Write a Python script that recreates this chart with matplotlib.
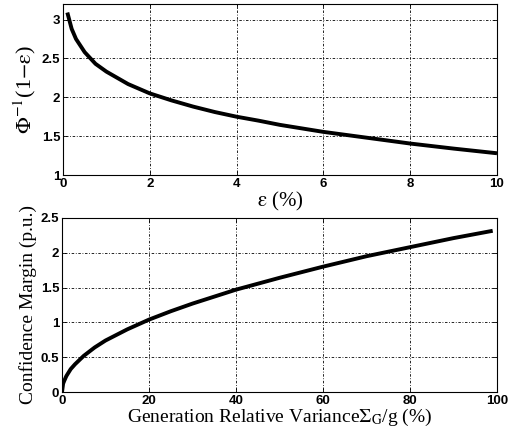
import numpy as np
import matplotlib
matplotlib.use("Agg")
import matplotlib.pyplot as plt

# top panel: inverse normal quantile vs risk level
eps_pct = [0.1, 0.2, 0.3, 0.5, 0.75, 1, 1.5, 2, 2.5, 3, 3.5, 4, 4.5, 5, 6, 7, 8, 9, 10]
phi_inv = [3.09, 2.88, 2.75, 2.58, 2.43, 2.33, 2.17, 2.05, 1.96, 1.88, 1.81,
           1.75, 1.70, 1.645, 1.555, 1.48, 1.405, 1.34, 1.28]

# bottom panel: confidence margin vs relative variance
var_pct = [0, 0.25, 0.5, 1, 2, 3, 5, 7.5, 10, 15, 20, 25, 30, 40, 50, 60, 70, 80, 90, 99]
margin = [0, 0.12, 0.16, 0.23, 0.33, 0.40, 0.52, 0.64, 0.74, 0.90, 1.04, 1.16,
          1.27, 1.47, 1.64, 1.80, 1.95, 2.08, 2.21, 2.315]

plt.rcParams['mathtext.fontset'] = 'stix'
serif = 'Liberation Serif'
tick_font = dict(family='Liberation Sans', weight='bold', size=9.5)

fig = plt.figure(figsize=(5.1, 4.42), dpi=100)
ax1 = fig.add_axes([0.1235, 0.604, 0.851, 0.387])
ax2 = fig.add_axes([0.1216, 0.113, 0.853, 0.394])


def style(ax):
    ax.grid(True, color='black', linestyle=(0, (1, 2, 3, 2)), linewidth=0.6)
    ax.tick_params(direction='in', length=3, width=0.6, top=True, right=True, pad=2)
    for s in ax.spines.values():
        s.set_linewidth(0.8)
    for lab in ax.get_xticklabels() + ax.get_yticklabels():
        lab.set_fontfamily(tick_font['family'])
        lab.set_fontweight(tick_font['weight'])
        lab.set_fontsize(tick_font['size'])


ax1.plot(eps_pct, phi_inv, color='black', linewidth=2.8, solid_capstyle='butt')
ax1.set_xlim(0, 10)
ax1.set_ylim(1, 3.2)
ax1.set_xticks([0, 2, 4, 6, 8, 10])
ax1.set_yticks([1, 1.5, 2, 2.5, 3])
ax1.set_yticklabels(['1', '1.5', '2', '2.5', '3'])
style(ax1)
ax1.set_xlabel(r'$\mathrm{\varepsilon}$ (%)', family=serif, fontsize=15, labelpad=0)
ax1.set_ylabel(r'$\Phi^{-1}$(1$-\mathrm{\varepsilon}$)', family=serif, fontsize=16, labelpad=3)

ax2.plot(var_pct, margin, color='black', linewidth=2.8, solid_capstyle='butt')
ax2.set_xlim(0, 100)
ax2.set_ylim(0, 2.5)
ax2.set_xticks([0, 20, 40, 60, 80, 100])
ax2.set_yticks([0, 0.5, 1, 1.5, 2, 2.5])
ax2.set_yticklabels(['0', '0.5', '1', '1.5', '2', '2.5'])
style(ax2)
ax2.set_xlabel(r'Generation Relative Variance$\Sigma_\mathrm{G}$/g (%)', family=serif,
               fontsize=14, labelpad=0)
ax2.set_ylabel('Confidence Margin (p.u.)', family=serif, fontsize=14, labelpad=3)

fig.savefig('out.png', dpi=100)
